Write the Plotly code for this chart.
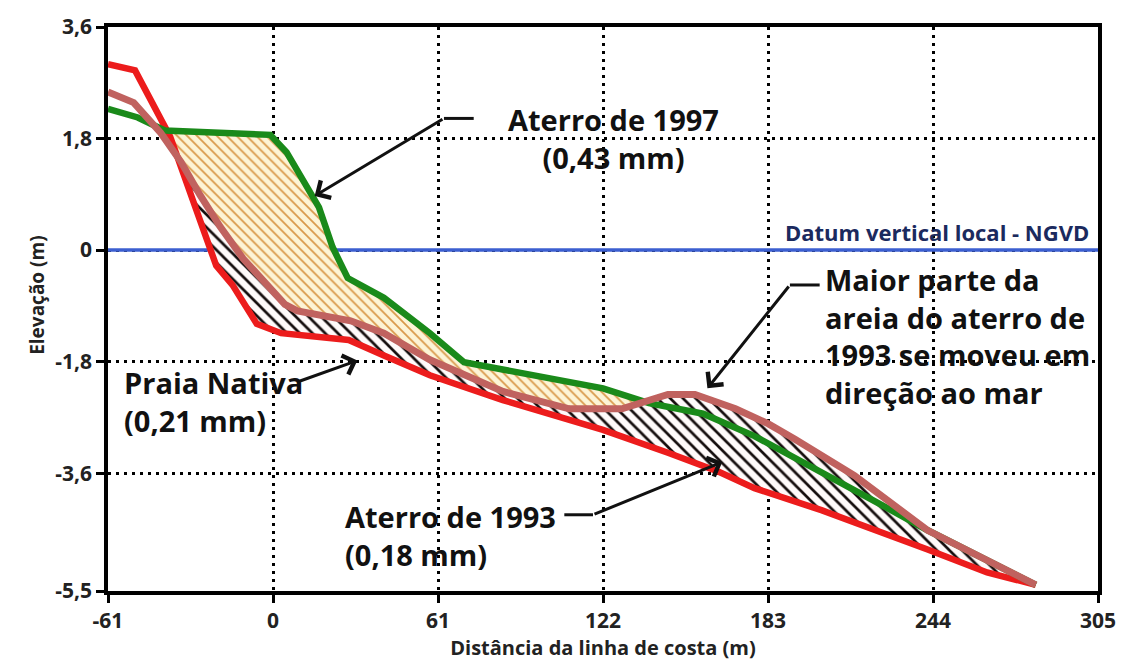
import numpy as np
import plotly.graph_objects as go

# Beach profiles: distance from the shoreline (m) vs. elevation (m, NGVD)
praia_x = [-61, -51, -38, -32, -27, -21, -15, -6, 3, 28, 41, 58, 85, 122, 146, 165, 178, 203, 242, 264, 282]
praia_y = [3.0, 2.9, 1.83, 1.1, 0.5, -0.25, -0.56, -1.19, -1.34, -1.45, -1.70, -2.02, -2.42, -2.9, -3.27,
           -3.58, -3.84, -4.2, -4.83, -5.2, -5.4]

aterro97_x = [-61, -50, -40, -1, 5, 11, 17, 22, 27.6, 41, 58, 70.6, 97, 122, 139, 159, 178, 203, 227, 242, 282]
aterro97_y = [2.28, 2.14, 1.93, 1.86, 1.58, 1.11, 0.69, 0.05, -0.45, -0.77, -1.34, -1.81, -2.02, -2.23, -2.47,
              -2.64, -3.0, -3.58, -4.16, -4.52, -5.4]

aterro93_x = [-61, -51.5, -41.5, -34, -27, -19.5, -11, 4.4, 9, 28.7, 41, 58, 85, 109.5, 129, 146, 156, 171, 183,
              193, 215, 242, 282]
aterro93_y = [2.55, 2.38, 1.89, 1.42, 0.89, 0.375, -0.14, -0.875, -0.98, -1.14, -1.34, -1.77, -2.28, -2.56, -2.56,
              -2.33, -2.33, -2.56, -2.8, -3.05, -3.64, -4.52, -5.4]

datum_elev = 0.0

x_ticks = [-61, 0, 61, 122, 183, 244, 305]
x_tick_text = ["-61", "0", "61", "122", "183", "244", "305"]
y_ticks = [-5.5, -3.6, -1.8, 0, 1.8, 3.6]
y_tick_text = ["-5,5", "-3,6", "-1,8", "0", "1,8", "3,6"]

X_RANGE = [-61, 305]
Y_RANGE = [-5.5, 3.6]

FONT = "Open Sans"
INK = "#111111"
RED = "#ec1c1c"
GREEN = "#1a8a1a"
MAUVE = "#c0625f"

# Common x grid for the sand-volume bands between profiles
grid = np.union1d(np.linspace(-61, 282, 3431), np.r_[praia_x, aterro97_x, aterro93_x])
red_g = np.interp(grid, praia_x, praia_y)
green_g = np.interp(grid, aterro97_x, aterro97_y)
mauve_g = np.interp(grid, aterro93_x, aterro93_y)


def band(top, bottom):
    """Closed polygons covering every stretch where top lies above bottom."""
    inside = (top - bottom) > 1e-3
    xs, ys = [], []
    i, n = 0, len(grid)
    while i < n:
        if not inside[i]:
            i += 1
            continue
        j = i
        while j < n and inside[j]:
            j += 1
        gx = grid[i:j]
        xs += list(gx) + list(gx[::-1]) + [None]
        ys += list(top[i:j]) + list(bottom[i:j][::-1]) + [None]
        i = j
    return xs, ys


fig = go.Figure()

# Local vertical datum (drawn first so the sand bands cover it)
fig.add_trace(go.Scatter(x=X_RANGE, y=[datum_elev, datum_elev], mode="lines",
                         line=dict(color="#3c5fd0", width=3.5), hoverinfo="skip", showlegend=False))

# 1997 nourishment: between the 1997 profile and the lower of the older ones
x97, y97 = band(green_g, np.maximum(mauve_g, red_g))
fig.add_trace(go.Scatter(
    x=x97, y=y97, mode="none", fill="toself", fillcolor="#fdf4d6",
    fillpattern=dict(shape="\\", fgcolor="#d9994a", bgcolor="#fdf4d6", fgopacity=1,
                     size=7, solidity=0.25),
    hoverinfo="skip", showlegend=False))

# 1993 nourishment: between the 1993 profile and the native beach
x93, y93 = band(mauve_g, red_g)
fig.add_trace(go.Scatter(
    x=x93, y=y93, mode="none", fill="toself", fillcolor="white",
    fillpattern=dict(shape="\\", fgcolor="#150d0d", bgcolor="#fffafa", fgopacity=1,
                     size=9, solidity=0.3),
    hoverinfo="skip", showlegend=False))

fig.add_trace(go.Scatter(x=praia_x, y=praia_y, mode="lines", line=dict(color=RED, width=6.5),
                         name="Praia Nativa", showlegend=False))
fig.add_trace(go.Scatter(x=aterro97_x, y=aterro97_y, mode="lines", line=dict(color=GREEN, width=6.5),
                         name="Aterro de 1997", showlegend=False))
fig.add_trace(go.Scatter(x=aterro93_x, y=aterro93_y, mode="lines", line=dict(color=MAUVE, width=7),
                         name="Aterro de 1993", showlegend=False))

fig.add_annotation(x=0.993, y=datum_elev, xref="paper", yref="y", xanchor="right", yanchor="bottom",
                   yshift=1, showarrow=False, text="Datum vertical local - NGVD",
                   font=dict(family=FONT, size=22, color="#1b2a5e", weight="bold"))

# Labels with leader arrows
labels = [
    dict(text="Aterro de 1997<br>(0,43 mm)", x=125.7, y=1.80, xanchor="center", align="center"),
    dict(text="Praia Nativa<br>(0,21 mm)", x=-55.9, y=-2.45, xanchor="left", align="left"),
    dict(text="Aterro de 1993<br>(0,18 mm)", x=25.7, y=-4.61, xanchor="left", align="left"),
    dict(text="Maior parte da<br>areia do aterro de<br>1993 se moveu em<br>direção ao mar",
         x=203.2, y=-1.38, xanchor="left", align="left"),
]
for lb in labels:
    fig.add_annotation(x=lb["x"], y=lb["y"], xref="x", yref="y", xanchor=lb["xanchor"], yanchor="middle",
                       align=lb["align"], showarrow=False, text=lb["text"],
                       font=dict(family=FONT, size=29, color=INK, weight="bold"))

# (start, elbow, tip) of each leader
leaders = [
    ((74.2, 2.125), (63.2, 2.125), (15.4, 0.875)),
    (None, (9.2, -2.125), (31.2, -1.78)),
    ((107.7, -4.27), (118.3, -4.27), (166.1, -3.42)),
    ((202.1, -0.5625), (191.1, -0.5625), (160.6, -2.23)),
]
for start, elbow, tip in leaders:
    if start is not None:
        fig.add_shape(type="line", xref="x", yref="y", x0=start[0], y0=start[1], x1=elbow[0], y1=elbow[1],
                      line=dict(color=INK, width=3))
    fig.add_annotation(x=tip[0], y=tip[1], ax=elbow[0], ay=elbow[1], xref="x", yref="y", axref="x", ayref="y",
                       text="", showarrow=True, arrowhead=4, arrowsize=1.3, arrowwidth=3, arrowcolor=INK,
                       standoff=0)

# Vertical axis title
fig.add_annotation(x=-0.0865, y=0.524, xref="paper", yref="paper", textangle=-90, showarrow=False,
                   text="Elevação (m)", font=dict(family=FONT, size=19, color="#222222", weight="bold"))

axis_common = dict(
    showline=True, mirror=True, linecolor="black", linewidth=3.5,
    ticks="outside", ticklen=8, tickwidth=3, tickcolor="black",
    showgrid=True, gridcolor="black", gridwidth=2.5, griddash="3px,5px",
    zeroline=False,
    tickfont=dict(family=FONT, size=21, color="#222222", weight="bold"),
)

fig.update_xaxes(range=X_RANGE, tickmode="array", tickvals=x_ticks, ticktext=x_tick_text,
                 title=dict(text="Distância da linha de costa (m)", standoff=6,
                            font=dict(family=FONT, size=20, color="#222222", weight="bold")),
                 **axis_common)
fig.update_yaxes(range=Y_RANGE, tickmode="array", tickvals=y_ticks, ticktext=y_tick_text, **axis_common)

fig.update_layout(
    width=1128, height=666,
    margin=dict(l=108, r=26, t=18, b=72),
    paper_bgcolor="white", plot_bgcolor="white",
    showlegend=False,
)

fig.write_html("out.html")
